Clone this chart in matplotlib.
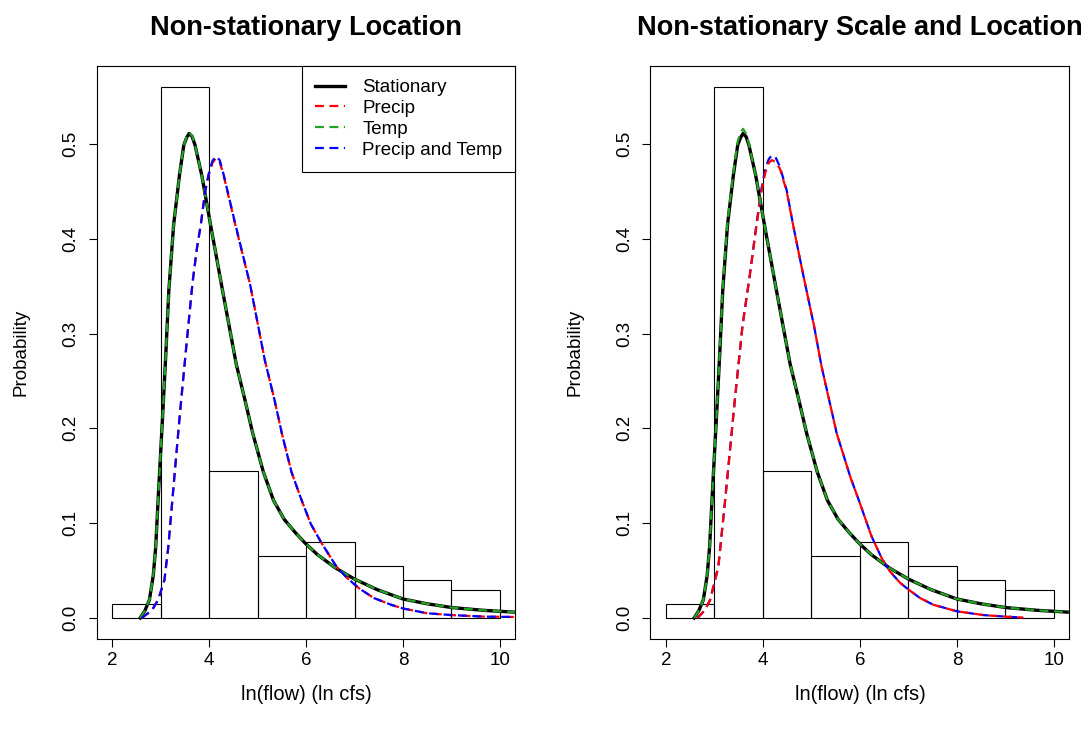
import matplotlib
matplotlib.use("Agg")
import matplotlib.pyplot as plt

plt.rcParams['font.family'] = ['Liberation Sans', 'DejaVu Sans']

# histogram of ln(flow) (density, bin width 1)
bin_left = [2, 3, 4, 5, 6, 7, 8, 9]
bin_density = [0.015, 0.56, 0.155, 0.065, 0.08, 0.055, 0.04, 0.03]

# stationary fit (same in both panels)
stat_x = [2.58, 2.68, 2.77, 2.85, 2.90, 2.96, 3.05, 3.11, 3.17, 3.27,
          3.39, 3.48, 3.54, 3.59, 3.65, 3.71, 3.85, 4.03, 4.28, 4.56,
          4.74, 4.90, 5.12, 5.33, 5.55, 5.78, 5.98, 6.23, 6.60, 7.00,
          7.46, 8.00, 8.49, 9.00, 9.67, 10.33]
stat_y = [0.0, 0.008, 0.019, 0.045, 0.075, 0.135, 0.220, 0.280, 0.345, 0.415,
          0.467, 0.499, 0.507, 0.511, 0.508, 0.499, 0.467, 0.415, 0.345, 0.268,
          0.230, 0.195, 0.154, 0.124, 0.104, 0.090, 0.079, 0.067, 0.053, 0.041,
          0.030, 0.020, 0.015, 0.011, 0.008, 0.006]

# non-stationary location
loc_temp_y = [0.0, 0.008, 0.019, 0.045, 0.075, 0.135, 0.220, 0.280, 0.345, 0.415,
              0.467, 0.499, 0.508, 0.512, 0.509, 0.499, 0.467, 0.415, 0.345, 0.268,
              0.230, 0.195, 0.154, 0.124, 0.104, 0.090, 0.079, 0.067, 0.053, 0.041,
              0.030, 0.020, 0.015, 0.011, 0.008, 0.006]
loc_x = [2.61, 2.82, 2.95, 3.08, 3.16, 3.28, 3.40, 3.53, 3.66, 3.75,
         3.83, 3.92, 3.99, 4.07, 4.14, 4.22, 4.30, 4.54, 4.85, 5.15,
         5.35, 5.50, 5.70, 5.91, 6.10, 6.32, 6.63, 6.85, 7.10, 7.40,
         7.75, 8.00, 8.49, 9.00, 9.67, 10.33]
loc_precip_y = [0.0, 0.008, 0.019, 0.040, 0.075, 0.146, 0.216, 0.286, 0.354, 0.390,
                0.415, 0.450, 0.467, 0.480, 0.485, 0.481, 0.467, 0.415, 0.351, 0.272,
                0.230, 0.195, 0.154, 0.124, 0.099, 0.079, 0.054, 0.042, 0.031, 0.021,
                0.014, 0.010, 0.005, 0.003, 0.0014, 0.001]
loc_both_y = [0.0, 0.008, 0.019, 0.040, 0.075, 0.146, 0.216, 0.286, 0.354, 0.390,
              0.415, 0.450, 0.468, 0.482, 0.487, 0.483, 0.468, 0.416, 0.351, 0.272,
              0.230, 0.195, 0.154, 0.124, 0.099, 0.079, 0.054, 0.042, 0.031, 0.021,
              0.014, 0.010, 0.005, 0.003, 0.0014, 0.001]

# non-stationary scale and location
sc_temp_y = [0.0, 0.008, 0.019, 0.045, 0.075, 0.135, 0.220, 0.282, 0.348, 0.418,
             0.470, 0.503, 0.512, 0.516, 0.511, 0.500, 0.467, 0.415, 0.345, 0.268,
             0.230, 0.195, 0.154, 0.124, 0.104, 0.090, 0.079, 0.067, 0.053, 0.041,
             0.030, 0.020, 0.015, 0.011, 0.008, 0.006]
sc_x = [2.65, 2.80, 2.91, 3.08, 3.22, 3.42, 3.58, 3.73, 3.87, 3.97,
        4.05, 4.12, 4.18, 4.26, 4.35, 4.49, 4.62, 4.83, 5.05, 5.21,
        5.52, 5.80, 6.00, 6.24, 6.45, 6.62, 6.83, 7.00, 7.24, 7.51,
        8.00, 8.55, 9.00, 9.37]
sc_precip_y = [0.0, 0.008, 0.019, 0.054, 0.124, 0.230, 0.309, 0.362, 0.415, 0.450,
               0.470, 0.480, 0.483, 0.481, 0.474, 0.450, 0.415, 0.362, 0.309, 0.265,
               0.195, 0.149, 0.121, 0.086, 0.063, 0.049, 0.037, 0.030, 0.021, 0.014,
               0.007, 0.003, 0.0014, 0.0004]
sc_both_y = [0.0, 0.008, 0.019, 0.054, 0.124, 0.230, 0.309, 0.362, 0.417, 0.453,
             0.474, 0.484, 0.488, 0.486, 0.476, 0.451, 0.415, 0.362, 0.309, 0.265,
             0.195, 0.149, 0.121, 0.086, 0.063, 0.049, 0.037, 0.030, 0.021, 0.014,
             0.007, 0.003, 0.0014, 0.0004]

xticks = [2, 4, 6, 8, 10]
yticks = [0.0, 0.1, 0.2, 0.3, 0.4, 0.5]

fig = plt.figure(figsize=(10.91, 7.32), dpi=100)
ax1 = fig.add_axes([0.0885, 0.1268, 0.384, 0.7832])
ax2 = fig.add_axes([0.5962, 0.1268, 0.384, 0.7832])

dash = (4, 2.5)


def setup(ax, title):
    ax.bar(bin_left, bin_density, width=1, align='edge', fill=False,
           edgecolor='black', linewidth=0.8)
    ax.set_xlim(1.68, 10.32)
    ax.set_ylim(-0.0224, 0.5824)
    ax.set_xticks(xticks)
    ax.set_yticks(yticks)
    ax.set_yticklabels(['%.1f' % v for v in yticks], rotation=90, va='center')
    ax.tick_params(direction='out', length=6, width=0.8, labelsize=13.5, pad=3)
    ax.tick_params(axis='y', pad=6.5)
    for s in ax.spines.values():
        s.set_linewidth(0.8)
    ax.set_title(title, fontsize=19.5, fontweight='bold', pad=22)
    ax.set_xlabel('ln(flow) (ln cfs)', fontsize=14.5, labelpad=12)
    ax.set_ylabel('Probability', fontsize=13.5, labelpad=23.5)


setup(ax1, 'Non-stationary Location')
ax1.plot(stat_x, stat_y, color='black', lw=2.4, label='Stationary')
ax1.plot(loc_x, loc_precip_y, color='red', lw=1.6, dashes=dash, label='Precip')
ax1.plot(stat_x, loc_temp_y, color='#22a322', lw=1.6, dashes=dash, label='Temp')
ax1.plot(loc_x, loc_both_y, color='blue', lw=1.6, dashes=dash, label='Precip and Temp')
leg = ax1.legend(loc='upper right', fontsize=13.5, frameon=True, fancybox=False,
                 framealpha=1, edgecolor='black', borderaxespad=0,
                 handlelength=1.6, handletextpad=0.9, labelspacing=0.2,
                 borderpad=0.7)
leg.get_frame().set_linewidth(0.8)

setup(ax2, 'Non-stationary Scale and Location')
ax2.plot(stat_x, stat_y, color='black', lw=2.4)
ax2.plot(sc_x, sc_both_y, color='blue', lw=1.6, dashes=dash)
ax2.plot(sc_x, sc_precip_y, color='red', lw=1.6, dashes=dash)
ax2.plot(stat_x, sc_temp_y, color='#22a322', lw=1.6, dashes=dash)

fig.savefig('out.png', dpi=100)
